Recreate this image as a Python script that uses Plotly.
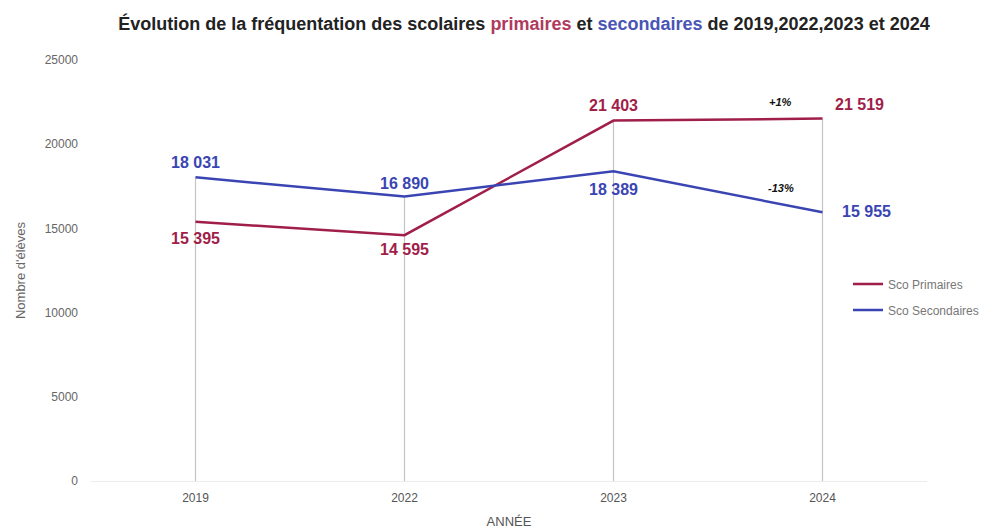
import plotly.graph_objects as go

years = ["2019", "2022", "2023", "2024"]
primaires = [15395, 14595, 21403, 21519]
secondaires = [18031, 16890, 18389, 15955]
labels_prim = ["15 395", "14 595", "21 403", "21 519"]
labels_sec = ["18 031", "16 890", "18 389", "15 955"]
evol_labels = ["+1%", "-13%"]

RED = "#a01e4a"
BLUE = "#3a45b3"
FONT = "Liberation Sans, Arial, sans-serif"

fig = go.Figure()

# vertical drop lines from 0 to the higher value
dx, dy = [], []
for i, y in enumerate(years):
    dx += [y, y, None]
    dy += [0, max(primaires[i], secondaires[i]), None]
fig.add_trace(go.Scatter(x=dx, y=dy, mode="lines", line=dict(color="#c4c4c4", width=1.2),
                         showlegend=False, hoverinfo="skip"))

fig.add_trace(go.Scatter(x=years, y=primaires, name="Sco Primaires", mode="lines",
                         legendgroup="p", line=dict(color=RED, width=2.5)))
fig.add_trace(go.Scatter(x=years, y=secondaires, name="Sco Secondaires", mode="lines",
                         legendgroup="s", line=dict(color=BLUE, width=2.5)))

# data labels (pixel offsets: xshift, yshift, anchor)
prim_pos = [(0, -17, "center"), (0, -14, "center"), (0, 15, "center"), (10, 14, "left")]
sec_pos = [(0, 15, "center"), (0, 13, "center"), (0, -18, "center"), (17, 1, "left")]
for vals, labs, pos, col in [(primaires, labels_prim, prim_pos, RED), (secondaires, labels_sec, sec_pos, BLUE)]:
    for i in range(len(years)):
        xs, ys, anc = pos[i]
        fig.add_annotation(x=i, y=vals[i], text="<b>" + labs[i] + "</b>", showarrow=False,
                           xshift=xs, yshift=ys, xanchor=anc, yanchor="middle",
                           font=dict(size=16, color=col, family=FONT))

# evolution annotations (placed on the last segment)
t = 0.8
yp = primaires[2] + t * (primaires[3] - primaires[2])
ys_ = secondaires[2] + t * (secondaires[3] - secondaires[2])
fig.add_annotation(x=2 + t, y=yp, text="<b><i>" + evol_labels[0] + "</i></b>",
                   showarrow=False, yshift=17, font=dict(size=11, color="#111", family=FONT))
fig.add_annotation(x=2 + t, y=ys_, text="<b><i>" + evol_labels[1] + "</i></b>",
                   showarrow=False, yshift=16, font=dict(size=11, color="#111", family=FONT))

title = ("Évolution de la fréquentation des scolaires <span style='color:#b03a5e'>primaires</span> et "
         "<span style='color:#4a55b5'>secondaires</span> de 2019,2022,2023 et 2024")

fig.update_layout(
    width=980, height=523,
    margin=dict(l=83, r=61, t=52, b=50, autoexpand=False),
    paper_bgcolor="white", plot_bgcolor="white",
    title=dict(text=title, x=516 / 980, xanchor="center", y=1 - 16 / 523, yref="container", yanchor="middle",
               font=dict(size=18, color="#222", family=FONT, weight="bold"), automargin=False),
    xaxis=dict(type="category", range=[-0.5, 3.5], showgrid=False, zeroline=False,
               showline=False, ticks="", automargin=False, ticklabelstandoff=8,
               tickfont=dict(size=12, color="#555", family=FONT),
               title=dict(text="ANNÉE", font=dict(size=13, color="#555", family=FONT), standoff=12)),
    yaxis=dict(range=[0, 25000], dtick=5000, tickformat="d", showgrid=False, zeroline=True,
               zerolinecolor="#ececec", zerolinewidth=1, showline=False, automargin=False,
               tickfont=dict(size=12, color="#666", family=FONT), ticklabelstandoff=12,
               title=dict(text="Nombre d'élèves", font=dict(size=13, color="#666", family=FONT), standoff=16)),
    legend=dict(x=0.9055, y=0.437, xanchor="left", yanchor="middle", bgcolor="rgba(0,0,0,0)",
                font=dict(size=12, color="#777", family=FONT), tracegroupgap=7, itemwidth=30,
                traceorder="grouped"),
    showlegend=True,
)

fig.write_html("out.html")
